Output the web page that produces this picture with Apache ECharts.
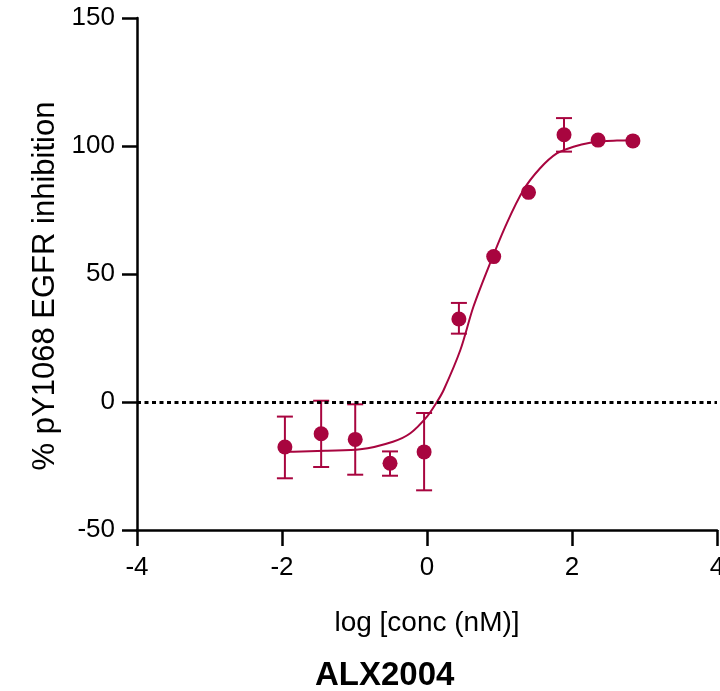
<!DOCTYPE html>
<html>
<head>
<meta charset="utf-8">
<script src="https://cdn.jsdelivr.net/npm/echarts@6/dist/echarts.min.js"></script>
<style>
html, body { margin: 0; padding: 0; background: #fff; }
#main { width: 720px; height: 691px; }
</style>
</head>
<body>
<div id="main"></div>
<script>
// 测量点：log浓度与抑制率（均值及误差上下限）
var logConc = [-1.96, -1.46, -0.99, -0.51, -0.04, 0.44, 0.92, 1.40, 1.89, 2.36, 2.84];
var inhibition = [-17.6, -12.4, -14.6, -23.9, -19.5, 32.4, 56.8, 81.9, 104.4, 102.3, 102.0];
var errLow = [-29.8, -25.4, -28.4, -28.8, -34.5, 26.7, null, null, 97.8, null, null];
var errHigh = [-5.7, 0.5, -0.9, -19.3, -4.3, 38.7, null, null, 110.9, null, null];

// 拟合曲线（从图上读取的点）
var fitX = [-1.96, -1.84, -1.40, -0.92, -0.47, -0.23, 0.00, 0.13, 0.23, 0.46, 0.64, 0.87, 1.10, 1.33, 1.56, 1.79, 2.02, 2.25, 2.48, 2.62, 2.84];
var fitY = [-19.5, -19.4, -19.0, -18.5, -15.5, -12.2, -5.7, -0.3, 4.7, 20.3, 37.2, 54.2, 69.8, 82.8, 91.3, 97.1, 99.7, 101.3, 102.0, 102.1, 102.3];

var xTicks = [-4, -2, 0, 2, 4];
var yTicks = [-50, 0, 50, 100, 150];

var color = '#A8053F';
var font = 'Liberation Sans, Arial, sans-serif';

function monthEcharts() {
    var myChart = echarts.init(document.getElementById('main'));

    var pointData = logConc.map(function (x, i) { return [x, inhibition[i]]; });
    var errData = [];
    logConc.forEach(function (x, i) {
        if (errLow[i] != null) errData.push([x, errLow[i], errHigh[i]]);
    });
    var fitData = fitX.map(function (x, i) { return [x, fitY[i]]; });

    var option = {
        animation: false,
        title: {
            text: 'ALX2004',
            left: 315,
            top: 659,
            padding: 0,
            textStyle: { fontSize: 33, fontWeight: 'bold', color: '#000', fontFamily: font }
        },
        grid: { left: 137, right: 3, top: 18, bottom: 161, containLabel: false, outerBoundsMode: 'none' },
        xAxis: {
            type: 'value',
            min: xTicks[0],
            max: xTicks[xTicks.length - 1],
            interval: 2,
            name: 'log [conc (nM)]',
            nameLocation: 'middle',
            nameGap: 79,
            nameTextStyle: { fontSize: 28, color: '#000', fontFamily: font },
            axisLine: { onZero: false, lineStyle: { color: '#000', width: 2.5 } },
            axisTick: { length: 16, lineStyle: { color: '#000', width: 2.5 } },
            axisLabel: { fontSize: 26, color: '#000', margin: 25, fontFamily: font },
            splitLine: { show: false }
        },
        yAxis: {
            type: 'value',
            min: yTicks[0],
            max: yTicks[yTicks.length - 1],
            interval: 50,
            name: '% pY1068 EGFR inhibition',
            nameLocation: 'middle',
            nameGap: 76,
            nameTextStyle: { fontSize: 31, color: '#000', fontFamily: font, padding: [0, 24, 0, 0] },
            axisLine: { onZero: false, lineStyle: { color: '#000', width: 2.5 } },
            axisTick: { length: 15, lineStyle: { color: '#000', width: 2.5 } },
            axisLabel: { fontSize: 26, color: '#000', margin: 22, fontFamily: font },
            splitLine: { show: false }
        },
        series: [
            {
                name: 'fit',
                type: 'line',
                data: fitData,
                smooth: 0.3,
                showSymbol: false,
                lineStyle: { color: color, width: 2 },
                z: 2,
                markLine: {
                    silent: true,
                    symbol: 'none',
                    label: { show: false },
                    lineStyle: { color: '#000', width: 3, type: [4, 3.5] },
                    data: [{ yAxis: 0 }]
                }
            },
            {
                name: 'err',
                type: 'custom',
                data: errData,
                encode: { x: 0, y: [1, 2] },
                z: 3,
                renderItem: function (params, api) {
                    var x = api.value(0);
                    var top = api.coord([x, api.value(2)]);
                    var bot = api.coord([x, api.value(1)]);
                    var w = 8;
                    var st = { stroke: color, lineWidth: 2 };
                    return {
                        type: 'group',
                        children: [
                            { type: 'line', shape: { x1: top[0], y1: top[1], x2: bot[0], y2: bot[1] }, style: st },
                            { type: 'line', shape: { x1: top[0] - w, y1: top[1], x2: top[0] + w, y2: top[1] }, style: st },
                            { type: 'line', shape: { x1: bot[0] - w, y1: bot[1], x2: bot[0] + w, y2: bot[1] }, style: st }
                        ]
                    };
                }
            },
            {
                name: 'data',
                type: 'scatter',
                data: pointData,
                symbol: 'circle',
                symbolSize: 15,
                itemStyle: { color: color, opacity: 1 },
                z: 4
            }
        ]
    };

    myChart.setOption(option);
}

monthEcharts();
</script>
</body>
</html>
